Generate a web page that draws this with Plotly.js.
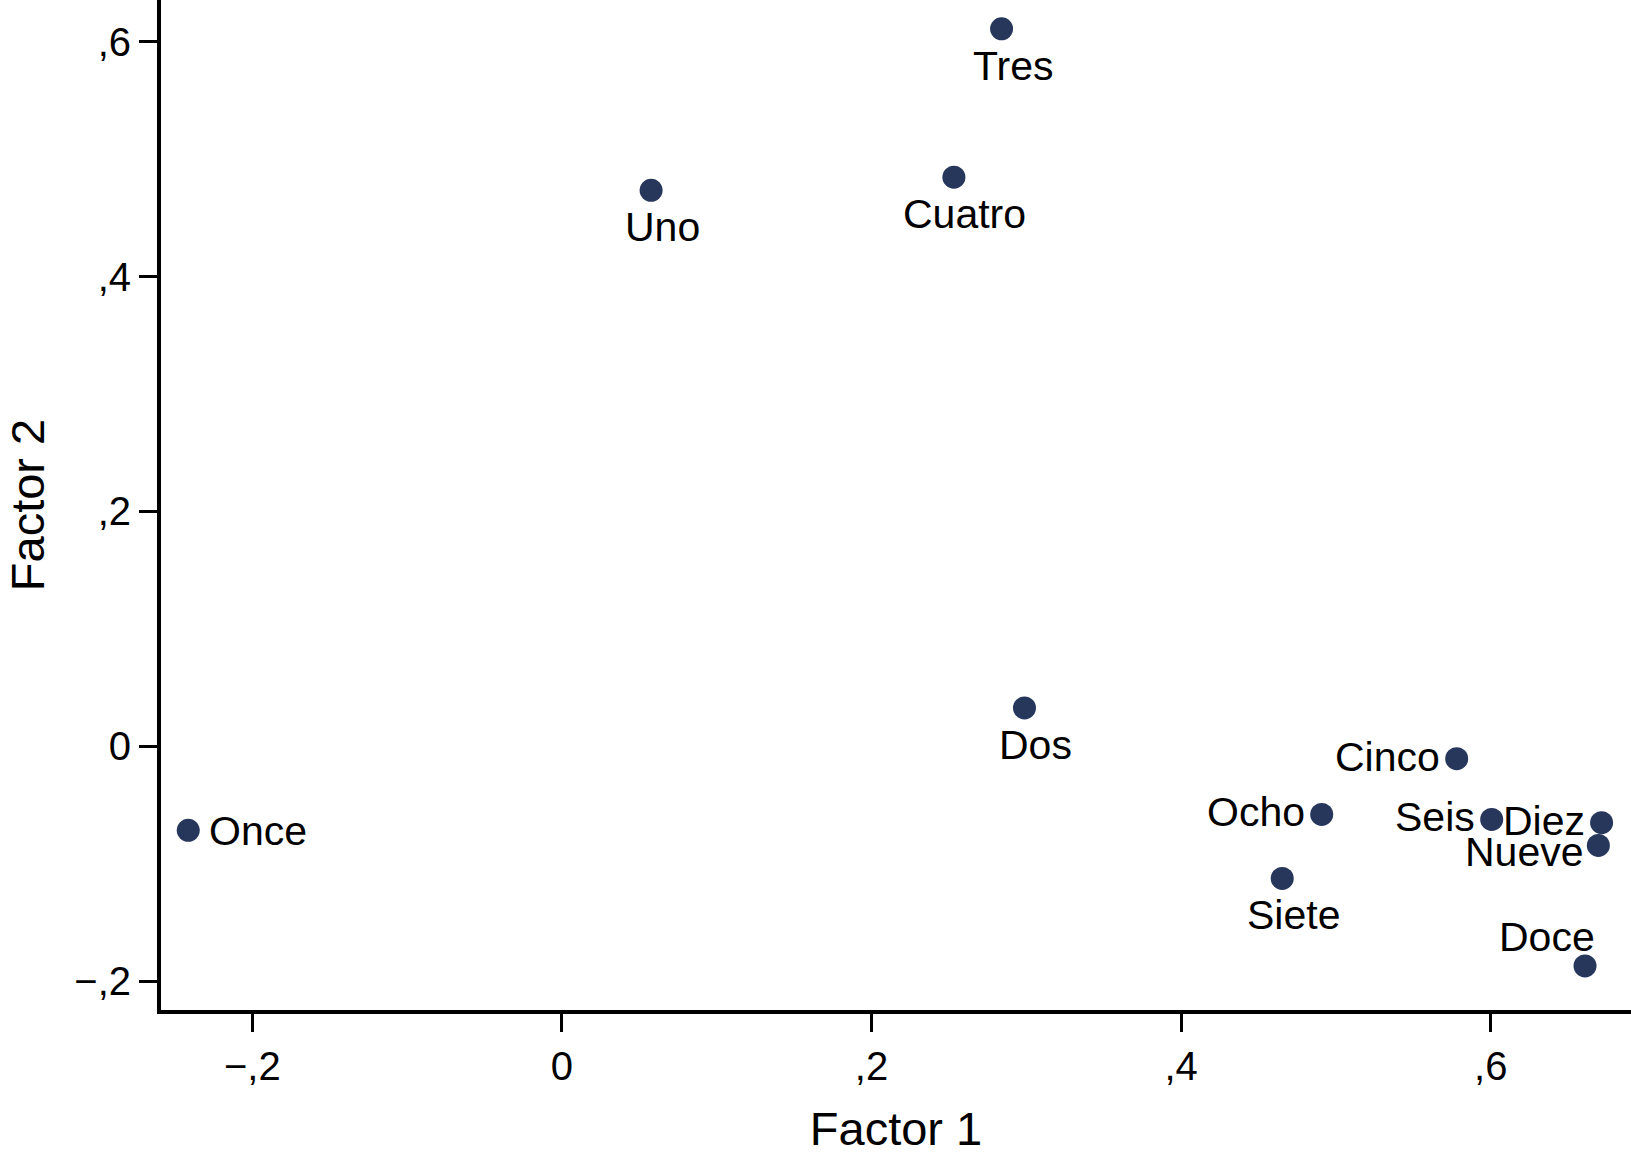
<!DOCTYPE html>
<html>
<head>
<meta charset="utf-8">
<script src="https://cdn.plot.ly/plotly-3.0.1.min.js"></script>
<style>html,body{margin:0;padding:0;background:#fff;}#chart{width:1631px;height:1159px;}</style>
</head>
<body>
<div id="chart"></div>
<script>
// Data (factor loadings)
const names   = ["Uno", "Dos", "Tres", "Cuatro", "Cinco", "Seis", "Siete", "Ocho", "Nueve", "Diez", "Once", "Doce"];
const factor1 = [0.0576, 0.2988, 0.284, 0.2532, 0.578, 0.6006, 0.4653, 0.4908, 0.6695, 0.6716, -0.2414, 0.6609];
const factor2 = [0.4734, 0.0326, 0.611, 0.4846, -0.0107, -0.0624, -0.1126, -0.0581, -0.0845, -0.0652, -0.0717, -0.1872];
// Label placement as clock positions (like Stata mlabposition)
const labelClock = [6, 6, 6, 6, 9, 9, 6, 9, 8, 9, 3, 11];

const xTickVals = [-0.2, 0, 0.2, 0.4, 0.6];
const xTickText = ["\u2212,2", "0", ",2", ",4", ",6"];
const yTickVals = [-0.2, 0, 0.2, 0.4, 0.6];
const yTickText = ["\u2212,2", "0", ",2", ",4", ",6"];

const FONT = "Liberation Sans, Arial, Helvetica, sans-serif";
const navy = "#26375b";

function placement(c) {
  switch (c) {
    case 6:  return {xanchor: "center", yanchor: "middle", xshift: 11, yshift: -37};
    case 9:  return {xanchor: "right",  yanchor: "middle", xshift: -15, yshift: 2};
    case 8:  return {xanchor: "right",  yanchor: "middle", xshift: -12, yshift: -7};
    case 3:  return {xanchor: "left",   yanchor: "middle", xshift: 19, yshift: -1};
    case 11: return {xanchor: "right",  yanchor: "middle", xshift: 12, yshift: 29};
    default: return {xanchor: "center", yanchor: "middle", xshift: 0, yshift: 0};
  }
}

const annotations = names.map((n, i) => Object.assign({
  x: factor1[i], y: factor2[i], xref: "x", yref: "y",
  text: n, showarrow: false,
  font: {family: FONT, size: 41, color: "#000"}
}, placement(labelClock[i])));

const trace = {
  type: "scatter", mode: "markers",
  x: factor1, y: factor2, text: names,
  marker: {size: 23, color: navy, line: {width: 0}},
  cliponaxis: false, hoverinfo: "text"
};

const layout = {
  width: 1631, height: 1159,
  paper_bgcolor: "#fff", plot_bgcolor: "#fff",
  margin: {l: 161, r: 0, t: 0, b: 149},
  showlegend: false,
  font: {family: FONT, color: "#000"},
  xaxis: {
    range: [-0.259, 0.6906], showgrid: false, zeroline: false,
    showline: true, linecolor: "#000", linewidth: 4,
    ticks: "outside", ticklen: 18, tickwidth: 3, tickcolor: "#000",
    tickvals: xTickVals, ticktext: xTickText,
    tickfont: {family: FONT, size: 40, color: "#000"},
    title: {text: "Factor 1", font: {family: FONT, size: 47, color: "#000"}, standoff: 26},
    automargin: false
  },
  yaxis: {
    range: [-0.2247, 0.6355], showgrid: false, zeroline: false,
    showline: true, linecolor: "#000", linewidth: 4,
    ticks: "outside", ticklen: 18, tickwidth: 3, tickcolor: "#000",
    tickvals: yTickVals, ticktext: yTickText,
    tickfont: {family: FONT, size: 40, color: "#000"},
    title: {text: "Factor 2", font: {family: FONT, size: 47, color: "#000"}, standoff: 16},
    automargin: false
  },
  annotations: annotations
};

Plotly.newPlot("chart", [trace], layout, {displayModeBar: false, staticPlot: true});
</script>
</body>
</html>
